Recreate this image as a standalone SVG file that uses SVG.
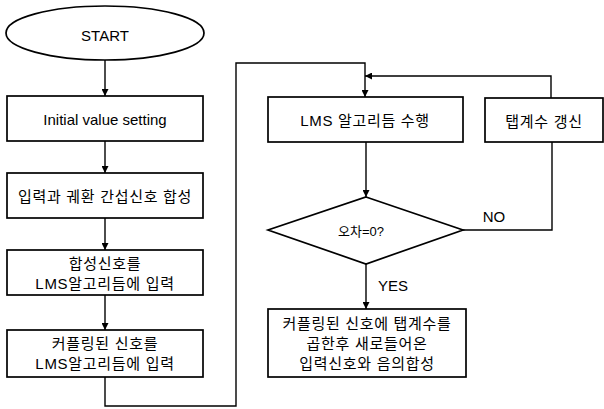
<svg xmlns="http://www.w3.org/2000/svg" width="604" height="409" viewBox="0 0 604 409">
<style>
.s{fill:#fff;stroke:#000;stroke-width:1.7}
.c{fill:none;stroke:#000;stroke-width:1.4}
text{font-family:"Liberation Sans","Noto Sans CJK KR",Arial,sans-serif;font-size:15px;fill:#000;text-anchor:middle;dominant-baseline:central}
.k{letter-spacing:0.7px}
</style>
<defs>
<marker id="ah" viewBox="0 0 10 10" refX="10" refY="5" markerWidth="7" markerHeight="7" orient="auto" markerUnits="userSpaceOnUse"><path d="M0,0L10,5L0,10Z" fill="#000"/></marker>
</defs>
<rect width="604" height="409" fill="#fff"/>
<g id="connectors">
<path class="c" d="M105,60V96" marker-end="url(#ah)"/>
<path class="c" d="M105,141V173" marker-end="url(#ah)"/>
<path class="c" d="M105,218V250" marker-end="url(#ah)"/>
<path class="c" d="M105,295V330" marker-end="url(#ah)"/>
<path class="c" d="M105,377V406H236V63H365V97" marker-end="url(#ah)"/>
<path class="c" d="M551,98V76H365" marker-end="url(#ah)"/>
<path class="c" d="M366,142V197" marker-end="url(#ah)"/>
<path class="c" d="M463,230H552V142"/>
<path class="c" d="M366,264V309" marker-end="url(#ah)"/>
<text x="494" y="216">NO</text>
<text x="393" y="285">YES</text>
</g>
<g id="start"><ellipse class="s" cx="105" cy="33" rx="99" ry="27"/><text x="105" y="35">START</text></g>
<g id="init"><rect class="s" x="7" y="96" width="196" height="45"/><text x="105" y="119">Initial value setting</text></g>
<g id="combine"><rect class="s" x="7" y="173" width="196" height="45"/><text class="k" x="105" y="196">입력과 궤환 간섭신호 합성</text></g>
<g id="input1"><rect class="s" x="7" y="250" width="196" height="45"/><text class="k" x="105" y="263">합성신호를</text><text class="k" x="105" y="283">LMS알고리듬에 입력</text></g>
<g id="input2"><rect class="s" x="7" y="330" width="196" height="47"/><text class="k" x="105" y="343">커플링된 신호를</text><text class="k" x="105" y="363">LMS알고리듬에 입력</text></g>
<g id="lms"><rect class="s" x="268" y="97" width="195" height="45"/><text class="k" x="365" y="120">LMS 알고리듬 수행</text></g>
<g id="tap"><rect class="s" x="485" y="98" width="118" height="44"/><text class="k" x="544" y="121">탭계수 갱신</text></g>
<g id="decision"><path class="s" d="M366,197L463,230L366,264L268,230Z"/><text x="361" y="231" style="font-size:13px">오차=0?</text></g>
<g id="result"><rect class="s" x="268" y="309" width="198" height="68"/><text class="k" x="367" y="323">커플링된 신호에 탭계수를</text><text class="k" x="367" y="343">곱한후 새로들어온</text><text class="k" x="367" y="363">입력신호와 음의합성</text></g>
</svg>
